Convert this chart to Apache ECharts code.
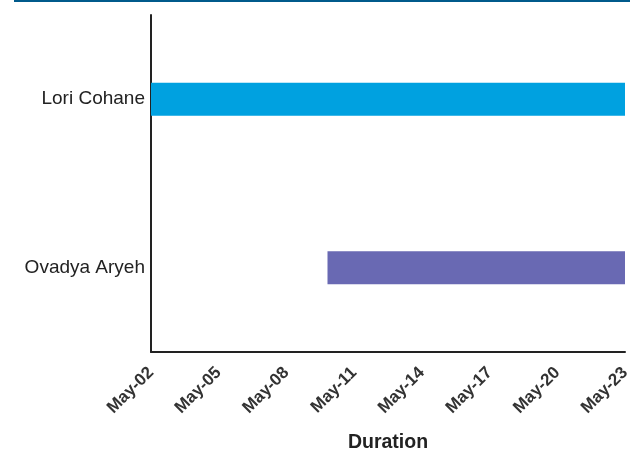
<!DOCTYPE html>
<html>
<head>
<meta charset="utf-8">
<script src="https://cdn.jsdelivr.net/npm/echarts@6/dist/echarts.min.js"></script>
<style>html,body{margin:0;padding:0;background:#fff}#c{width:630px;height:449px}</style>
</head>
<body>
<div id="c"></div>
<script>
var people = ['Lori Cohane', 'Ovadya Aryeh'];
var startDates = ['2023-05-02T00:00:00Z', '2023-05-09T19:40:00Z'];
var endDates = ['2023-05-23T00:00:00Z', '2023-05-23T00:00:00Z'];
var barColors = ['#00A1E0', '#6969B3'];
var axisMinDate = '2023-05-02T00:00:00Z';
var axisMaxDate = '2023-05-23T00:00:00Z';
var tickStepDays = 3;
var months = ['Jan','Feb','Mar','Apr','May','Jun','Jul','Aug','Sep','Oct','Nov','Dec'];

var DAY = 86400000;
var data = people.map(function (p, i) {
  return { value: [i, Date.parse(startDates[i]), Date.parse(endDates[i])], itemStyle: { color: barColors[i] } };
});

var chart = echarts.init(document.getElementById('c'));
chart.setOption({
  animation: false,
  grid: { left: 151, right: 5, top: 15, bottom: 97, containLabel: false, outerBoundsMode: 'none' },
  graphic: [{ type: 'rect', shape: { x: 14, y: 0, width: 616, height: 2 }, style: { fill: '#005A8B' } }],
  xAxis: {
    type: 'value',
    min: Date.parse(axisMinDate),
    max: Date.parse(axisMaxDate),
    interval: tickStepDays * DAY,
    name: 'Duration',
    nameLocation: 'middle',
    nameGap: 81,
    nameTextStyle: { fontFamily: 'Liberation Sans, Arial', fontSize: 19.5, fontWeight: 'bold', color: '#222' },
    axisLine: { show: true, lineStyle: { color: '#222', width: 2 } },
    axisTick: { show: false },
    splitLine: { show: false },
    axisLabel: {
      rotate: 45,
      margin: 18,
      color: '#333',
      fontFamily: 'Liberation Sans, Arial',
      fontSize: 17,
      fontWeight: 'bold',
      formatter: function (v) {
        var d = new Date(v);
        var dd = d.getUTCDate();
        return months[d.getUTCMonth()] + '-' + (dd < 10 ? '0' + dd : dd);
      }
    }
  },
  yAxis: {
    type: 'category',
    data: people,
    inverse: true,
    axisLine: { show: true, lineStyle: { color: '#222', width: 2 } },
    axisTick: { show: false },
    splitLine: { show: false },
    axisLabel: { color: '#222', fontFamily: 'Liberation Sans, Arial', fontSize: 19, margin: 6 }
  },
  series: [{
    type: 'custom',
    renderItem: function (params, api) {
      var cat = api.value(0);
      var s = api.coord([api.value(1), cat]);
      var e = api.coord([api.value(2), cat]);
      var h = 33;
      return {
        type: 'rect',
        shape: { x: s[0], y: s[1] - h / 2, width: e[0] - s[0], height: h },
        style: api.style()
      };
    },
    encode: { x: [1, 2], y: 0 },
    data: data
  }]
});
</script>
</body>
</html>
